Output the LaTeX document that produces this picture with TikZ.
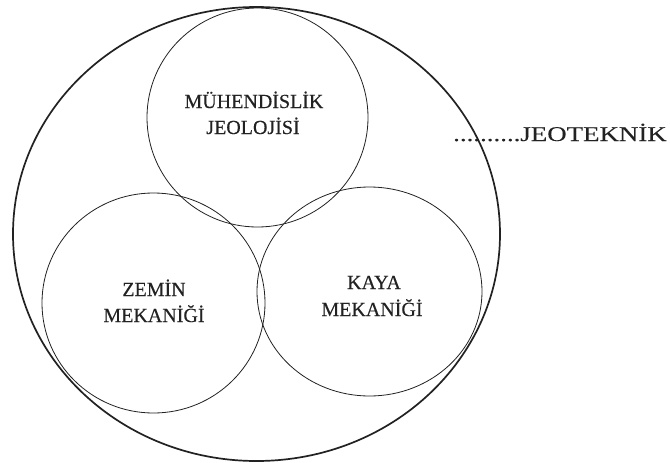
\documentclass[tikz,border=0pt]{standalone}
\usepackage{fontspec}
\setmainfont{Liberation Serif}[FakeBold=0.3]
\newfontfamily\labelfont[FakeBold=0.3]{Liberation Serif}
\newfontfamily\widefont[FakeStretch=1.28,FakeBold=0.2]{Liberation Serif}
\usetikzlibrary{shapes.geometric}
\definecolor{ink}{HTML}{222222}
\tikzset{
  outer/.style={ellipse, draw=ink, line width=1.7pt, inner sep=0pt, outer sep=0pt},
  field/.style={ellipse, draw=ink, line width=0.8pt, inner sep=0pt, outer sep=0pt},
  lbl/.style={anchor=base, inner sep=0pt, text=ink, font=\labelfont\fontsize{20}{24}\selectfont},
  title/.style={anchor=base west, inner sep=0pt, text=ink, font=\widefont\fontsize{21}{25}\selectfont}
}
\begin{document}
\begin{tikzpicture}[x=1pt,y=-1pt]
\useasboundingbox[fill=white] (0,0) rectangle (670,463);
% outer ellipse
\node[outer, minimum width=487pt, minimum height=454pt] (geo) at (256.5,234) {};
% three fields
\node[field, minimum width=221pt, minimum height=219pt] (mj) at (257.5,117.5) {};
\node[field, minimum width=223pt, minimum height=220pt] (zm) at (153.5,303) {};
\node[field, minimum width=225pt, minimum height=209pt] (km) at (369.5,291.5) {};
% labels
\node[lbl] (mj1) at (254,108) {MÜHENDİSLİK};
\node[lbl] (mj2) at (253,134) {JEOLOJİSİ};
\node[lbl] (zm1) at (154,296) {ZEMİN};
\node[lbl] (zm2) at (154,322) {MEKANİĞİ};
\node[lbl] (km1) at (374,289) {KAYA};
\node[lbl] (km2) at (372,316) {MEKANİĞİ};
\node[title] (jt) at (453,141) {..........JEOTEKNİK};
\end{tikzpicture}
\end{document}
